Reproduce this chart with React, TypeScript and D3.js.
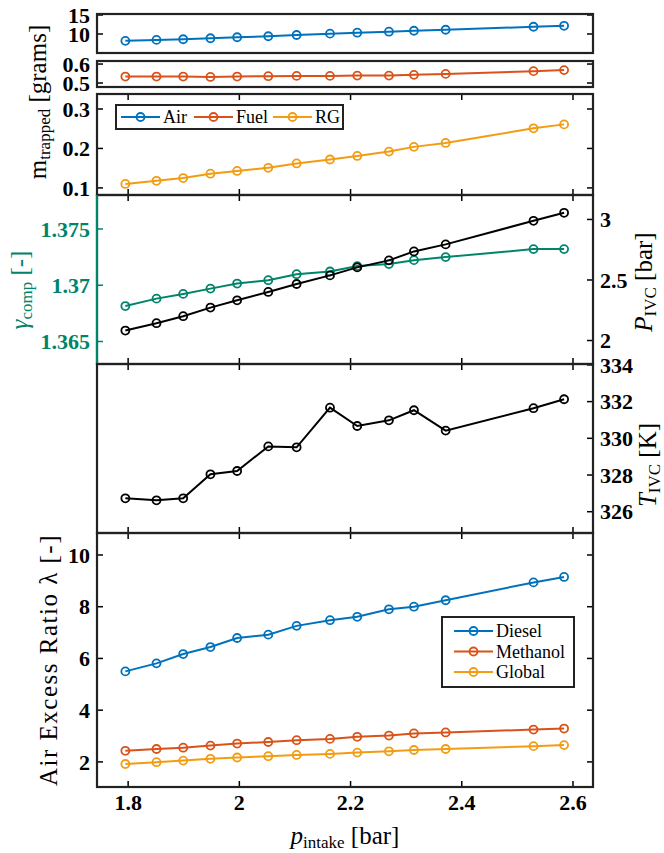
import React from "react";
import * as d3 from "d3";

// intake pressure [bar]
const pIntake = [1.795, 1.851, 1.899, 1.948, 1.996, 2.052, 2.103, 2.163, 2.212, 2.269, 2.314, 2.371, 2.529, 2.584];
// trapped masses [grams]
const airMass = [8.19, 8.45, 8.62, 8.88, 9.14, 9.4, 9.74, 10.09, 10.34, 10.6, 10.86, 11.12, 11.9, 12.16];
const fuelMass = [0.534, 0.534, 0.534, 0.532, 0.534, 0.536, 0.5375, 0.5375, 0.539, 0.539, 0.543, 0.548, 0.5625, 0.568];
const rgMass = [0.11, 0.118, 0.125, 0.136, 0.143, 0.151, 0.162, 0.172, 0.181, 0.192, 0.204, 0.214, 0.251, 0.261];
// compression
const gammaComp = [1.36815, 1.36881, 1.36923, 1.3697, 1.37015, 1.37045, 1.37098, 1.37122, 1.3717, 1.37188, 1.37223, 1.3725, 1.37321, 1.37321];
const pIVC = [2.082, 2.143, 2.201, 2.272, 2.332, 2.401, 2.467, 2.538, 2.604, 2.662, 2.736, 2.794, 2.989, 3.055];
const tIVC = [326.73, 326.62, 326.73, 328.04, 328.22, 329.56, 329.51, 331.67, 330.67, 330.98, 331.53, 330.42, 331.64, 332.13];
// air excess ratio
const lambdaDiesel = [5.5, 5.81, 6.17, 6.44, 6.79, 6.92, 7.26, 7.48, 7.61, 7.9, 8.0, 8.25, 8.94, 9.15];
const lambdaMethanol = [2.43, 2.5, 2.55, 2.63, 2.71, 2.77, 2.84, 2.89, 2.97, 3.02, 3.1, 3.14, 3.25, 3.29];
const lambdaGlobal = [1.92, 1.99, 2.05, 2.12, 2.17, 2.22, 2.27, 2.31, 2.36, 2.41, 2.46, 2.5, 2.61, 2.65];

const xTicks = [1.8, 2, 2.2, 2.4, 2.6];
const airTicks = [10, 15];
const fuelTicks = [0.5, 0.6];
const rgTicks = [0.1, 0.2, 0.3];
const gammaTicks = [1.365, 1.37, 1.375];
const pTicks = [2, 2.5, 3];
const tTicks = [326, 328, 330, 332, 334];
const lambdaTicks = [2, 4, 6, 8, 10];

const massLegend = ["Air", "Fuel", "RG"];
const lambdaLegend = ["Diesel", "Methanol", "Global"];

const BLUE = "#0072BD";
const RED = "#D95319";
const YEL = "#F39C12";
const GREEN = "#00846A";
const FONT = "Liberation Serif, Times New Roman, DejaVu Serif, serif";

const X0 = 97;
const X1 = 593;
const TL = 6;
const x = d3.scaleLinear().domain([1.744, 2.636]).range([X0, X1]);

const Series = ({ ys, y, color }: { ys: number[]; y: any; color: string }) => {
  const line = d3
    .line<number>()
    .x((_, i) => x(pIntake[i]))
    .y((d) => y(d));
  return (
    <g>
      <path d={line(ys) || ""} fill="none" stroke={color} strokeWidth={2} />
      {ys.map((v, i) => (
        <circle key={i} cx={x(pIntake[i])} cy={y(v)} r={4} fill="none" stroke={color} strokeWidth={1.8} />
      ))}
    </g>
  );
};

const YAxis = ({ y, ticks, side, color = "#000", labels = true }: any) => (
  <g>
    {ticks.map((t: number) => (
      <g key={t}>
        {side !== "right" && <line x1={X0} x2={X0 + TL} y1={y(t)} y2={y(t)} stroke={color} strokeWidth={1.5} />}
        {side !== "left" && <line x1={X1} x2={X1 - TL} y1={y(t)} y2={y(t)} stroke={color} strokeWidth={1.5} />}
        {labels && (
          <text
            x={side === "right" ? X1 + 7 : X0 - 7}
            y={y(t)}
            dy="0.35em"
            textAnchor={side === "right" ? "start" : "end"}
            fill={color}
            fontSize={22}
            fontWeight="bold"
          >
            {String(t)}
          </text>
        )}
      </g>
    ))}
  </g>
);

const XTicks = ({ top, bottom }: { top: number; bottom: number }) => (
  <g>
    {xTicks.map((t) => (
      <g key={t}>
        <line x1={x(t)} x2={x(t)} y1={top} y2={top + TL} stroke="#000" strokeWidth={1.5} />
        <line x1={x(t)} x2={x(t)} y1={bottom} y2={bottom - TL} stroke="#000" strokeWidth={1.5} />
      </g>
    ))}
  </g>
);

const Frame = ({ top, bottom }: { top: number; bottom: number }) => (
  <rect x={X0} y={top} width={X1 - X0} height={bottom - top} fill="none" stroke="#222" strokeWidth={2.2} />
);

const LegendItem = ({ x0, y0, color, label }: any) => (
  <g>
    <line x1={x0} x2={x0 + 39} y1={y0} y2={y0} stroke={color} strokeWidth={2} />
    <circle cx={x0 + 19.5} cy={y0} r={4} fill="none" stroke={color} strokeWidth={1.8} />
    <text x={x0 + 42} y={y0} dy="0.35em" fontSize={18}>
      {label}
    </text>
  </g>
);

export default function App() {
  const yAir = d3.scaleLinear().domain([5, 15.26]).range([53, 14]);
  const yFuel = d3.scaleLinear().domain([0.479, 0.616]).range([87, 61]);
  const yRG = d3.scaleLinear().domain([0.082, 0.338]).range([195, 94]);
  const yGamma = d3.scaleLinear().domain([1.363, 1.37802]).range([364, 195]);
  const yP = d3.scaleLinear().domain([1.806, 3.202]).range([364, 195]);
  const yT = d3.scaleLinear().domain([324.84, 334.05]).range([533, 364]);
  const yLam = d3.scaleLinear().domain([1.03, 10.85]).range([787, 533]);

  const massColors = [BLUE, RED, YEL];
  const massX = [121, 194, 273];

  return (
    <svg
      width={664}
      height={853}
      style={{ position: "absolute", left: 0, top: 0, background: "#fff", fontFamily: FONT }}
    >
      {/* panel 1: air */}
      <Series ys={airMass} y={yAir} color={BLUE} />
      <YAxis y={yAir} ticks={airTicks} side="left" />
      <YAxis y={yAir} ticks={airTicks} side="right" labels={false} />
      <Frame top={14} bottom={53} />

      {/* panel 2: fuel */}
      <Series ys={fuelMass} y={yFuel} color={RED} />
      <YAxis y={yFuel} ticks={fuelTicks} side="left" />
      <YAxis y={yFuel} ticks={fuelTicks} side="right" labels={false} />
      <Frame top={61} bottom={87} />

      {/* panel 3: residual gas */}
      <Series ys={rgMass} y={yRG} color={YEL} />
      <YAxis y={yRG} ticks={rgTicks} side="left" />
      <YAxis y={yRG} ticks={rgTicks} side="right" labels={false} />
      <XTicks top={94} bottom={195} />
      <Frame top={94} bottom={195} />
      <rect x={116} y={105} width={227} height={24} fill="#fff" stroke="#222" strokeWidth={2} />
      {massLegend.map((m, i) => (
        <LegendItem key={m} x0={massX[i]} y0={117} color={massColors[i]} label={m} />
      ))}

      {/* panel 4: gamma & P_IVC */}
      <Series ys={gammaComp} y={yGamma} color={GREEN} />
      <Series ys={pIVC} y={yP} color="#000" />
      <YAxis y={yGamma} ticks={gammaTicks} side="left" color={GREEN} />
      <YAxis y={yP} ticks={pTicks} side="right" />
      <XTicks top={195} bottom={364} />
      <Frame top={195} bottom={364} />
      <line x1={X0} x2={X0} y1={195} y2={364} stroke={GREEN} strokeWidth={2.2} />

      {/* panel 5: T_IVC */}
      <Series ys={tIVC} y={yT} color="#000" />
      <YAxis y={yT} ticks={tTicks} side="right" />
      <XTicks top={364} bottom={533} />
      <Frame top={364} bottom={533} />

      {/* panel 6: lambda */}
      <Series ys={lambdaDiesel} y={yLam} color={BLUE} />
      <Series ys={lambdaMethanol} y={yLam} color={RED} />
      <Series ys={lambdaGlobal} y={yLam} color={YEL} />
      <YAxis y={yLam} ticks={lambdaTicks} side="left" />
      <YAxis y={yLam} ticks={lambdaTicks} side="right" labels={false} />
      <XTicks top={533} bottom={787} />
      <Frame top={533} bottom={787} />
      <rect x={442} y={617} width={132} height={70} fill="#fff" stroke="#222" strokeWidth={2} />
      {lambdaLegend.map((m, i) => (
        <LegendItem key={m} x0={454} y0={631 + i * 20.5} color={massColors[i]} label={m} />
      ))}

      {/* x tick labels */}
      {xTicks.map((t) => (
        <text key={t} x={x(t)} y={810} textAnchor="middle" fontSize={22} fontWeight="bold">
          {String(t)}
        </text>
      ))}

      {/* axis titles */}
      <text x={345} y={844} textAnchor="middle" fontSize={25}>
        <tspan fontStyle="italic">p</tspan>
        <tspan fontSize={17} dy={4}>intake</tspan>
        <tspan dy={-4}> [bar]</tspan>
      </text>
      <text transform="translate(46,102) rotate(-90)" textAnchor="middle" fontSize={25}>
        <tspan>m</tspan>
        <tspan fontSize={17} dy={4}>trapped</tspan>
        <tspan dy={-4}> [grams]</tspan>
      </text>
      <text transform="translate(28,290) rotate(-90)" textAnchor="middle" fontSize={25} fill={GREEN}>
        <tspan fontStyle="italic">γ</tspan>
        <tspan fontSize={17} dy={4}>comp</tspan>
        <tspan dy={-4}> [-]</tspan>
      </text>
      <text transform="translate(652,282) rotate(-90)" textAnchor="middle" fontSize={25}>
        <tspan fontStyle="italic">P</tspan>
        <tspan fontSize={17} dy={4}>IVC</tspan>
        <tspan dy={-4}> [bar]</tspan>
      </text>
      <text transform="translate(656,465) rotate(-90)" textAnchor="middle" fontSize={25}>
        <tspan fontStyle="italic">T</tspan>
        <tspan fontSize={17} dy={4}>IVC</tspan>
        <tspan dy={-4}> [K]</tspan>
      </text>
      <text transform="translate(57,660) rotate(-90)" textAnchor="middle" fontSize={25} letterSpacing={1.5}>
        Air Excess Ratio λ [-]
      </text>
    </svg>
  );
}
